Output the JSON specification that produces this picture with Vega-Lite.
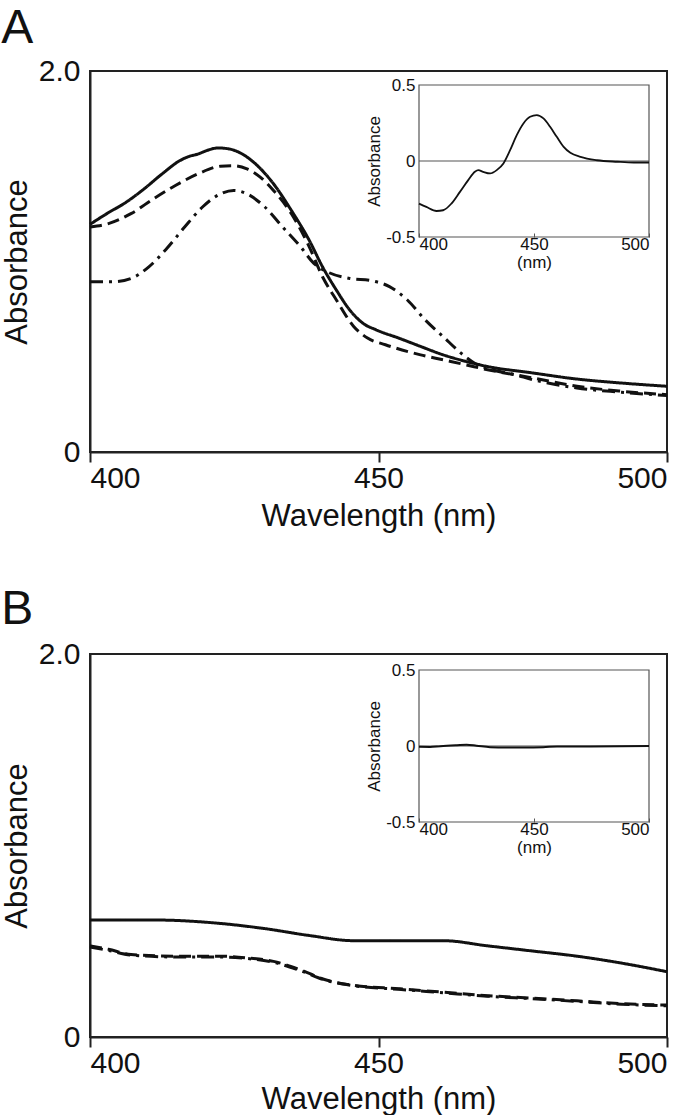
{
  "$schema": "https://vega.github.io/schema/vega-lite/v6.json",
  "padding": {"left": 0, "top": 4, "right": 0, "bottom": 0},
  "config": {
    "font": "Liberation Sans",
    "view": {"stroke": "#222", "strokeWidth": 2},
    "axis": {"grid": false, "labelColor": "#111", "titleColor": "#111", "titleFontWeight": "normal"},
    "title": {"fontWeight": "normal", "color": "#111"}
  },
  "datasets": {
    "mainA": [
      {"wl": 400, "abs": 1.195, "series": "solid"},
      {"wl": 402.9, "abs": 1.251, "series": "solid"},
      {"wl": 406.3, "abs": 1.312, "series": "solid"},
      {"wl": 409.4, "abs": 1.382, "series": "solid"},
      {"wl": 412.5, "abs": 1.46, "series": "solid"},
      {"wl": 415.6, "abs": 1.53, "series": "solid"},
      {"wl": 417.2, "abs": 1.552, "series": "solid"},
      {"wl": 418.7, "abs": 1.564, "series": "solid"},
      {"wl": 420.2, "abs": 1.582, "series": "solid"},
      {"wl": 422.2, "abs": 1.596, "series": "solid"},
      {"wl": 424.1, "abs": 1.591, "series": "solid"},
      {"wl": 426.4, "abs": 1.564, "series": "solid"},
      {"wl": 428.7, "abs": 1.512, "series": "solid"},
      {"wl": 431.8, "abs": 1.408, "series": "solid"},
      {"wl": 434.9, "abs": 1.268, "series": "solid"},
      {"wl": 438.0, "abs": 1.111, "series": "solid"},
      {"wl": 440.3, "abs": 0.972, "series": "solid"},
      {"wl": 442.7, "abs": 0.85, "series": "solid"},
      {"wl": 445.0, "abs": 0.746, "series": "solid"},
      {"wl": 447.3, "abs": 0.676, "series": "solid"},
      {"wl": 449.6, "abs": 0.641, "series": "solid"},
      {"wl": 453.5, "abs": 0.598, "series": "solid"},
      {"wl": 457.3, "abs": 0.554, "series": "solid"},
      {"wl": 461.2, "abs": 0.51, "series": "solid"},
      {"wl": 465.1, "abs": 0.476, "series": "solid"},
      {"wl": 468.9, "abs": 0.449, "series": "solid"},
      {"wl": 476.7, "abs": 0.415, "series": "solid"},
      {"wl": 484.4, "abs": 0.383, "series": "solid"},
      {"wl": 492.1, "abs": 0.362, "series": "solid"},
      {"wl": 500, "abs": 0.345, "series": "solid"},
      {"wl": 400, "abs": 1.181, "series": "dashed"},
      {"wl": 403.2, "abs": 1.199, "series": "dashed"},
      {"wl": 407.1, "abs": 1.251, "series": "dashed"},
      {"wl": 411.0, "abs": 1.329, "series": "dashed"},
      {"wl": 414.8, "abs": 1.399, "series": "dashed"},
      {"wl": 418.7, "abs": 1.46, "series": "dashed"},
      {"wl": 422.6, "abs": 1.5, "series": "dashed"},
      {"wl": 424.9, "abs": 1.503, "series": "dashed"},
      {"wl": 427.2, "abs": 1.486, "series": "dashed"},
      {"wl": 429.5, "abs": 1.443, "series": "dashed"},
      {"wl": 431.8, "abs": 1.373, "series": "dashed"},
      {"wl": 434.9, "abs": 1.251, "series": "dashed"},
      {"wl": 438.0, "abs": 1.077, "series": "dashed"},
      {"wl": 440.3, "abs": 0.92, "series": "dashed"},
      {"wl": 442.7, "abs": 0.798, "series": "dashed"},
      {"wl": 445.7, "abs": 0.659, "series": "dashed"},
      {"wl": 448.1, "abs": 0.598, "series": "dashed"},
      {"wl": 451.2, "abs": 0.563, "series": "dashed"},
      {"wl": 457.3, "abs": 0.51, "series": "dashed"},
      {"wl": 461.2, "abs": 0.484, "series": "dashed"},
      {"wl": 465.1, "abs": 0.458, "series": "dashed"},
      {"wl": 468.9, "abs": 0.432, "series": "dashed"},
      {"wl": 476.7, "abs": 0.389, "series": "dashed"},
      {"wl": 484.4, "abs": 0.345, "series": "dashed"},
      {"wl": 492.1, "abs": 0.319, "series": "dashed"},
      {"wl": 500, "abs": 0.301, "series": "dashed"},
      {"wl": 400, "abs": 0.894, "series": "dashdot"},
      {"wl": 404, "abs": 0.894, "series": "dashdot"},
      {"wl": 407.1, "abs": 0.911, "series": "dashdot"},
      {"wl": 410.2, "abs": 0.972, "series": "dashdot"},
      {"wl": 413.3, "abs": 1.068, "series": "dashdot"},
      {"wl": 416.4, "abs": 1.181, "series": "dashdot"},
      {"wl": 419.5, "abs": 1.286, "series": "dashdot"},
      {"wl": 422.6, "abs": 1.355, "series": "dashdot"},
      {"wl": 424.9, "abs": 1.373, "series": "dashdot"},
      {"wl": 427.2, "abs": 1.355, "series": "dashdot"},
      {"wl": 430.3, "abs": 1.286, "series": "dashdot"},
      {"wl": 433.4, "abs": 1.181, "series": "dashdot"},
      {"wl": 436.5, "abs": 1.077, "series": "dashdot"},
      {"wl": 438.8, "abs": 0.99, "series": "dashdot"},
      {"wl": 441.1, "abs": 0.946, "series": "dashdot"},
      {"wl": 445.0, "abs": 0.911, "series": "dashdot"},
      {"wl": 448.8, "abs": 0.899, "series": "dashdot"},
      {"wl": 451.9, "abs": 0.868, "series": "dashdot"},
      {"wl": 455.0, "abs": 0.798, "series": "dashdot"},
      {"wl": 458.1, "abs": 0.693, "series": "dashdot"},
      {"wl": 461.2, "abs": 0.606, "series": "dashdot"},
      {"wl": 464.3, "abs": 0.519, "series": "dashdot"},
      {"wl": 466.6, "abs": 0.467, "series": "dashdot"},
      {"wl": 469.7, "abs": 0.432, "series": "dashdot"},
      {"wl": 473.6, "abs": 0.406, "series": "dashdot"},
      {"wl": 476.7, "abs": 0.38, "series": "dashdot"},
      {"wl": 484.4, "abs": 0.336, "series": "dashdot"},
      {"wl": 492.1, "abs": 0.314, "series": "dashdot"},
      {"wl": 500, "abs": 0.296, "series": "dashdot"}
    ],
    "insetA": [
      {"wl": 400, "abs": -0.28},
      {"wl": 403.2, "abs": -0.302},
      {"wl": 407.6, "abs": -0.329},
      {"wl": 410.5, "abs": -0.324},
      {"wl": 414.1, "abs": -0.28},
      {"wl": 417.8, "abs": -0.203},
      {"wl": 421.4, "abs": -0.126},
      {"wl": 424.3, "abs": -0.071},
      {"wl": 425.8, "abs": -0.06},
      {"wl": 427.9, "abs": -0.071},
      {"wl": 430.9, "abs": -0.082},
      {"wl": 433.8, "abs": -0.06},
      {"wl": 436.7, "abs": -0.016},
      {"wl": 439.6, "abs": 0.071},
      {"wl": 442.5, "abs": 0.17},
      {"wl": 445.4, "abs": 0.247},
      {"wl": 448.3, "abs": 0.291},
      {"wl": 451.2, "abs": 0.302},
      {"wl": 454.1, "abs": 0.28},
      {"wl": 457.0, "abs": 0.225},
      {"wl": 459.9, "abs": 0.159},
      {"wl": 462.9, "abs": 0.093},
      {"wl": 465.8, "abs": 0.054},
      {"wl": 470.2, "abs": 0.027},
      {"wl": 477.4, "abs": 0.005},
      {"wl": 486.2, "abs": -0.005},
      {"wl": 493.4, "abs": -0.01},
      {"wl": 500, "abs": -0.01}
    ],
    "mainB": [
      {"wl": 400, "abs": 0.611, "series": "solid"},
      {"wl": 411, "abs": 0.611, "series": "solid"},
      {"wl": 422.6, "abs": 0.593, "series": "solid"},
      {"wl": 430.3, "abs": 0.566, "series": "solid"},
      {"wl": 438, "abs": 0.53, "series": "solid"},
      {"wl": 445.7, "abs": 0.503, "series": "solid"},
      {"wl": 453.5, "abs": 0.503, "series": "solid"},
      {"wl": 461.2, "abs": 0.503, "series": "solid"},
      {"wl": 468.9, "abs": 0.476, "series": "solid"},
      {"wl": 476.7, "abs": 0.449, "series": "solid"},
      {"wl": 484.4, "abs": 0.422, "series": "solid"},
      {"wl": 492.1, "abs": 0.386, "series": "solid"},
      {"wl": 500, "abs": 0.341, "series": "solid"},
      {"wl": 400, "abs": 0.476, "series": "dashed"},
      {"wl": 403.2, "abs": 0.458, "series": "dashed"},
      {"wl": 407.1, "abs": 0.431, "series": "dashed"},
      {"wl": 414.8, "abs": 0.422, "series": "dashed"},
      {"wl": 422.6, "abs": 0.422, "series": "dashed"},
      {"wl": 427.2, "abs": 0.413, "series": "dashed"},
      {"wl": 431.8, "abs": 0.395, "series": "dashed"},
      {"wl": 436.5, "abs": 0.35, "series": "dashed"},
      {"wl": 441.1, "abs": 0.296, "series": "dashed"},
      {"wl": 445.7, "abs": 0.27, "series": "dashed"},
      {"wl": 453.5, "abs": 0.252, "series": "dashed"},
      {"wl": 461.2, "abs": 0.234, "series": "dashed"},
      {"wl": 468.9, "abs": 0.216, "series": "dashed"},
      {"wl": 476.7, "abs": 0.203, "series": "dashed"},
      {"wl": 484.4, "abs": 0.189, "series": "dashed"},
      {"wl": 492.1, "abs": 0.174, "series": "dashed"},
      {"wl": 500, "abs": 0.167, "series": "dashed"},
      {"wl": 400, "abs": 0.47, "series": "dashdot"},
      {"wl": 403.2, "abs": 0.452, "series": "dashdot"},
      {"wl": 407.1, "abs": 0.428, "series": "dashdot"},
      {"wl": 414.8, "abs": 0.418, "series": "dashdot"},
      {"wl": 422.6, "abs": 0.418, "series": "dashdot"},
      {"wl": 427.2, "abs": 0.41, "series": "dashdot"},
      {"wl": 431.8, "abs": 0.39, "series": "dashdot"},
      {"wl": 436.5, "abs": 0.346, "series": "dashdot"},
      {"wl": 441.1, "abs": 0.294, "series": "dashdot"},
      {"wl": 445.7, "abs": 0.268, "series": "dashdot"},
      {"wl": 453.5, "abs": 0.249, "series": "dashdot"},
      {"wl": 461.2, "abs": 0.231, "series": "dashdot"},
      {"wl": 468.9, "abs": 0.213, "series": "dashdot"},
      {"wl": 476.7, "abs": 0.2, "series": "dashdot"},
      {"wl": 484.4, "abs": 0.186, "series": "dashdot"},
      {"wl": 492.1, "abs": 0.171, "series": "dashdot"},
      {"wl": 500, "abs": 0.163, "series": "dashdot"}
    ],
    "insetB": [
      {"wl": 400, "abs": -0.005},
      {"wl": 404.8, "abs": -0.006},
      {"wl": 409.3, "abs": -0.001},
      {"wl": 416.5, "abs": 0.005},
      {"wl": 420.7, "abs": 0.008},
      {"wl": 425, "abs": 0.002},
      {"wl": 430.9, "abs": -0.008},
      {"wl": 438, "abs": -0.01},
      {"wl": 445.4, "abs": -0.01},
      {"wl": 454, "abs": -0.008},
      {"wl": 460, "abs": -0.003},
      {"wl": 474.5, "abs": -0.003},
      {"wl": 500, "abs": 0}
    ]
  },
  "vconcat": [
    {
      "title": {"text": "A", "anchor": "start", "frame": "bounds", "fontSize": 48, "offset": 3},
      "width": 577,
      "height": 381,
      "resolve": {"scale": {"x": "independent", "y": "independent"}},
      "layer": [
        {
          "data": {"name": "mainA"},
          "mark": {"type": "line", "color": "#111", "strokeWidth": 3, "interpolate": "monotone"},
          "encoding": {
            "x": {"field": "wl", "type": "quantitative", "scale": {"domain": [400, 500], "nice": false, "zero": false},
              "axis": {"orient": "bottom", "values": [400, 450, 500], "tickSize": 10, "tickWidth": 2, "tickColor": "#222", "domainColor": "#222", "domainWidth": 2, "labelFontSize": 30, "labelPadding": 1, "title": "Wavelength (nm)", "titleFontSize": 31, "titlePadding": 8}},
            "y": {"field": "abs", "type": "quantitative", "scale": {"domain": [0, 2], "nice": false},
              "axis": {"orient": "left", "values": [0, 2], "ticks": false, "labelExpr": "datum.value == 0 ? '0' : '2.0'", "domainColor": "#222", "domainWidth": 2, "labelFontSize": 30, "labelPadding": 10, "title": "Absorbance", "titleFontSize": 31, "titlePadding": 5}},
            "strokeDash": {"field": "series", "type": "nominal", "scale": {"domain": ["solid", "dashed", "dashdot"], "range": [[1, 0], [12, 6], [13, 6, 3, 6]]}, "legend": null},
            "detail": {"field": "series"}
          }
        },
        {
          "layer": [
            {
              "data": {"values": [{"x1": 400, "x2": 500, "y1": -0.5, "y2": 0.5}]},
              "mark": {"type": "rect", "fill": null, "stroke": "#555", "strokeWidth": 1.2},
              "encoding": {
                "x": {"field": "x1", "type": "quantitative", "scale": {"domain": [400, 500], "nice": false, "zero": false, "range": [329, 559]}},
                "x2": {"field": "x2"},
                "y": {"field": "y1", "type": "quantitative", "scale": {"domain": [-0.5, 0.5], "nice": false, "zero": false, "range": [166, 14]}},
                "y2": {"field": "y2"}
              }
            },
            {
              "data": {"values": [{"x1": 400, "x2": 500, "y0": 0}]},
              "mark": {"type": "rule", "stroke": "#555", "strokeWidth": 1.2},
              "encoding": {
                "x": {"field": "x1", "type": "quantitative"},
                "x2": {"field": "x2"},
                "y": {"field": "y0", "type": "quantitative"}
              }
            },
            {
              "data": {"name": "insetA"},
              "mark": {"type": "line", "color": "#111", "strokeWidth": 1.8, "interpolate": "monotone"},
              "encoding": {
                "x": {"field": "wl", "type": "quantitative",
                  "scale": {"domain": [400, 500], "nice": false, "zero": false, "range": [329, 559]},
                  "axis": {"orient": "bottom", "offset": -215, "values": [400, 450, 500], "tickSize": -4, "tickColor": "#555", "domain": false, "labelFontSize": 17, "labelPadding": 3, "title": "(nm)", "titleFontSize": 17, "titlePadding": 2}},
                "y": {"field": "abs", "type": "quantitative",
                  "scale": {"domain": [-0.5, 0.5], "nice": false, "zero": false, "range": [166, 14]},
                  "axis": {"orient": "left", "offset": -329, "values": [-0.5, 0, 0.5], "ticks": false, "domain": false, "labelExpr": "datum.value == 0 ? '0' : (datum.value > 0 ? '0.5' : '-0.5')", "labelFontSize": 17, "labelPadding": 4, "title": "Absorbance", "titleFontSize": 17, "titlePadding": 2}}
              }
            }
          ]
        }
      ]
    },
    {
      "title": {"text": "B", "anchor": "start", "frame": "bounds", "fontSize": 48, "offset": 5},
      "width": 577,
      "height": 383,
      "resolve": {"scale": {"x": "independent", "y": "independent"}},
      "layer": [
        {
          "data": {"name": "mainB"},
          "mark": {"type": "line", "color": "#111", "strokeWidth": 3, "interpolate": "monotone"},
          "encoding": {
            "x": {"field": "wl", "type": "quantitative", "scale": {"domain": [400, 500], "nice": false, "zero": false},
              "axis": {"orient": "bottom", "values": [400, 450, 500], "tickSize": 10, "tickWidth": 2, "tickColor": "#222", "domainColor": "#222", "domainWidth": 2, "labelFontSize": 30, "labelPadding": 1, "title": "Wavelength (nm)", "titleFontSize": 31, "titlePadding": 6}},
            "y": {"field": "abs", "type": "quantitative", "scale": {"domain": [0, 2], "nice": false},
              "axis": {"orient": "left", "values": [0, 2], "ticks": false, "labelExpr": "datum.value == 0 ? '0' : '2.0'", "domainColor": "#222", "domainWidth": 2, "labelFontSize": 30, "labelPadding": 10, "title": "Absorbance", "titleFontSize": 31, "titlePadding": 5}},
            "strokeDash": {"field": "series", "type": "nominal", "scale": {"domain": ["solid", "dashed", "dashdot"], "range": [[1, 0], [12, 6], [13, 6, 3, 6]]}, "legend": null},
            "detail": {"field": "series"}
          }
        },
        {
          "layer": [
            {
              "data": {"values": [{"x1": 400, "x2": 500, "y1": -0.5, "y2": 0.5}]},
              "mark": {"type": "rect", "fill": null, "stroke": "#555", "strokeWidth": 1.2},
              "encoding": {
                "x": {"field": "x1", "type": "quantitative", "scale": {"domain": [400, 500], "nice": false, "zero": false, "range": [329, 559]}},
                "x2": {"field": "x2"},
                "y": {"field": "y1", "type": "quantitative", "scale": {"domain": [-0.5, 0.5], "nice": false, "zero": false, "range": [168, 16]}},
                "y2": {"field": "y2"}
              }
            },
            {
              "data": {"values": [{"x1": 400, "x2": 500, "y0": 0}]},
              "mark": {"type": "rule", "stroke": "#555", "strokeWidth": 1.2},
              "encoding": {
                "x": {"field": "x1", "type": "quantitative"},
                "x2": {"field": "x2"},
                "y": {"field": "y0", "type": "quantitative"}
              }
            },
            {
              "data": {"name": "insetB"},
              "mark": {"type": "line", "color": "#111", "strokeWidth": 2, "interpolate": "monotone"},
              "encoding": {
                "x": {"field": "wl", "type": "quantitative",
                  "scale": {"domain": [400, 500], "nice": false, "zero": false, "range": [329, 559]},
                  "axis": {"orient": "bottom", "offset": -215, "values": [400, 450, 500], "tickSize": -4, "tickColor": "#555", "domain": false, "labelFontSize": 17, "labelPadding": 3, "title": "(nm)", "titleFontSize": 17, "titlePadding": 2}},
                "y": {"field": "abs", "type": "quantitative",
                  "scale": {"domain": [-0.5, 0.5], "nice": false, "zero": false, "range": [168, 16]},
                  "axis": {"orient": "left", "offset": -329, "values": [-0.5, 0, 0.5], "ticks": false, "domain": false, "labelExpr": "datum.value == 0 ? '0' : (datum.value > 0 ? '0.5' : '-0.5')", "labelFontSize": 17, "labelPadding": 4, "title": "Absorbance", "titleFontSize": 17, "titlePadding": 2}}
              }
            }
          ]
        }
      ]
    }
  ],
  "spacing": 53
}
